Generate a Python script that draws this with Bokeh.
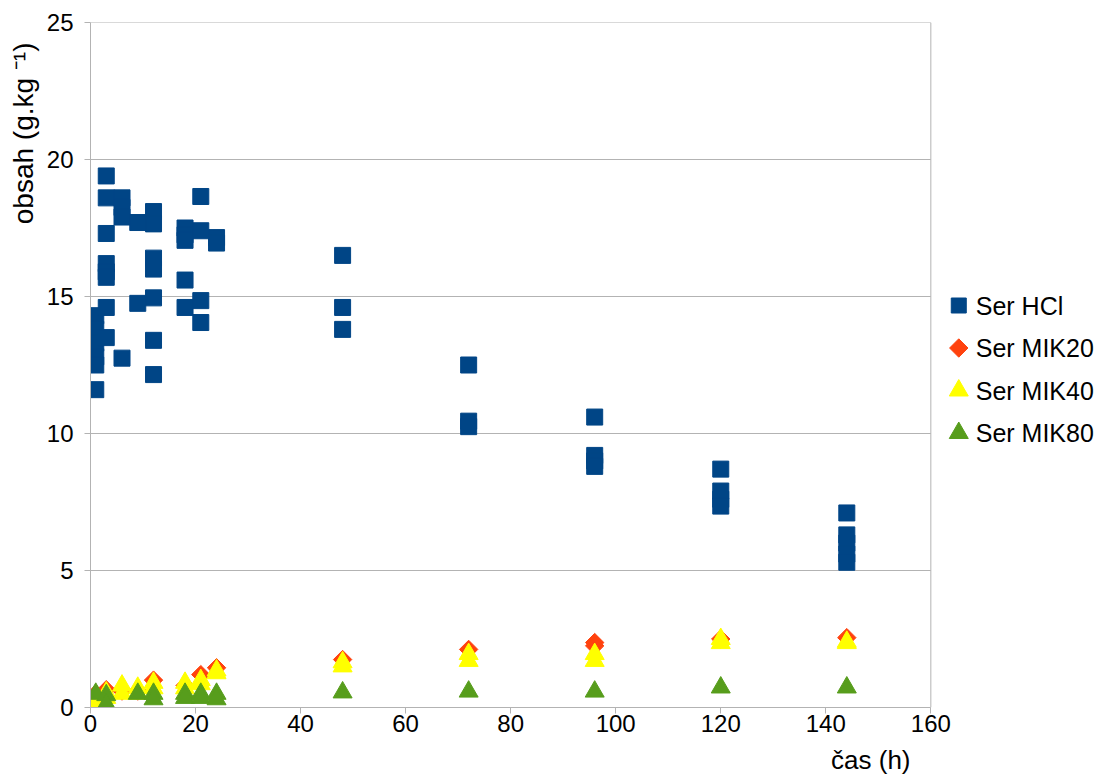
import math
from bokeh.plotting import figure
from bokeh.models import Range1d, FixedTicker, Title
from bokeh.core.properties import value
from bokeh.embed import file_html
from bokeh.resources import INLINE

# time points (h) and measured contents (g/kg); replicate values share a time
hcl_t = [1, 1, 1, 1, 1, 1,
         3, 3, 3, 3, 3, 3, 3, 3,
         6, 6, 6, 6,
         9, 9,
         12, 12, 12, 12, 12, 12, 12,
         18, 18, 18, 18, 18,
         21, 21, 21, 21,
         24, 24,
         48, 48, 48,
         72, 72, 72,
         96, 96, 96, 96,
         120, 120, 120, 120,
         144, 144, 144, 144, 144]
hcl_v = [14.3, 13.8, 13.3, 12.8, 12.5, 11.6,
         19.4, 18.6, 17.3, 16.2, 15.9, 15.7, 14.6, 13.5,
         18.6, 18.25, 17.9, 12.75,
         17.7, 14.75,
         18.1, 17.65, 16.4, 16.0, 14.95, 13.4, 12.15,
         17.5, 17.25, 17.05, 15.6, 14.6,
         18.65, 17.4, 14.85, 14.05,
         17.15, 16.95,
         16.5, 14.6, 13.8,
         12.5, 10.45, 10.25,
         10.6, 9.2, 9.0, 8.8,
         8.7, 7.9, 7.6, 7.35,
         7.1, 6.3, 6.0, 5.6, 5.3]

mik20_t = [1, 3, 6, 9, 12, 18, 21, 24, 48, 72, 96, 96, 120, 144]
mik20_v = [0.5, 0.65, 0.6, 0.6, 1.0, 0.8, 1.2, 1.45, 1.75, 2.12, 2.37, 2.25, 2.5, 2.55]

mik40_t = [1, 1, 3, 3, 6, 6, 9, 9, 12, 12, 18, 18, 21, 21, 24, 24,
           48, 48, 72, 72, 96, 96, 120, 120, 144, 144]
mik40_v = [0.4, 0.2, 0.55, 0.35, 0.8, 0.5, 0.72, 0.5, 0.9, 0.7, 0.9, 0.7,
           1.0, 0.85, 1.35, 1.25, 1.65, 1.5, 1.95, 1.7, 1.95, 1.7,
           2.5, 2.35, 2.4, 2.35]

mik80_t = [1, 3, 3, 9, 12, 12, 18, 18, 21, 21, 24, 24, 48, 72, 96, 120, 144]
mik80_v = [0.5, 0.45, 0.12, 0.5, 0.5, 0.3, 0.5, 0.35, 0.5, 0.35, 0.5, 0.3,
           0.55, 0.58, 0.58, 0.73, 0.73]

series_names = ["Ser HCl", "Ser MIK20", "Ser MIK40", "Ser MIK80"]
x_ticks = [0, 20, 40, 60, 80, 100, 120, 140, 160]
y_ticks = [0, 5, 10, 15, 20, 25]
X_MAX = 160
Y_MAX = 25

FONT = "Liberation Sans"
FS_TICK = "24px"
FS_TEXT = "26px"
GRID = "#b3b3b3"

W, H = 1099, 782
LEFT, RIGHT_EDGE, TOP, BOTTOM = 88, 930, 22, 707

# the frame runs to the right edge of the page; the plotting box ends at
# X_MAX and the key is drawn in the free strip to its right
x_end = X_MAX * (W - LEFT) / (RIGHT_EDGE - LEFT)


def px_x(px):
    return (px - LEFT) * x_end / (W - LEFT)


def px_y(py):
    return (BOTTOM - py) * Y_MAX / (BOTTOM - TOP)


p = figure(width=W, height=H, output_backend="svg", toolbar_location=None,
           x_range=Range1d(0, x_end), y_range=Range1d(0, Y_MAX),
           min_border_left=LEFT, min_border_right=0,
           min_border_top=TOP, min_border_bottom=H - BOTTOM)
p.background_fill_color = "white"
p.border_fill_color = "white"
p.outline_line_color = None

for ax in (p.xaxis[0], p.yaxis[0]):
    ax.axis_line_color = GRID
    ax.major_tick_line_color = GRID
    ax.major_tick_out = 6
    ax.major_tick_in = 0
    ax.minor_tick_line_color = None
    ax.major_label_text_font = FONT
    ax.major_label_text_font_size = FS_TICK
    ax.major_label_text_color = "black"
p.xaxis[0].ticker = FixedTicker(ticks=x_ticks)
p.xaxis[0].bounds = (0, X_MAX)
p.yaxis[0].ticker = FixedTicker(ticks=y_ticks)
p.xaxis[0].major_label_standoff = 1
p.yaxis[0].major_label_standoff = 11

# horizontal grid and the right-hand edge of the plotting box
p.xgrid.grid_line_color = None
p.ygrid.grid_line_color = None
p.segment(x0=[0] * len(y_ticks), y0=y_ticks, x1=[X_MAX] * len(y_ticks), y1=y_ticks,
          line_color=GRID, line_width=1, level="underlay")
p.segment(x0=[X_MAX], y0=[0], x1=[X_MAX], y1=[Y_MAX],
          line_color=GRID, line_width=1, level="underlay")

styles = [
    dict(marker="square", angle=0.0, size=16, color="#004586"),
    dict(marker="square", angle=math.pi / 4, size=13, color="#FF420E"),
    dict(marker="triangle", angle=0.0, size=19, color="#FFFF00"),
    dict(marker="triangle", angle=0.0, size=19, color="#579D1C"),
]
series = [(hcl_t, hcl_v), (mik20_t, mik20_v), (mik40_t, mik40_v), (mik80_t, mik80_v)]

for (ts, vs), st in zip(series, styles):
    p.scatter(ts, vs, marker=st["marker"], angle=st["angle"], size=st["size"],
              fill_color=st["color"], line_color=st["color"])

# key: one symbol and its series name per row
key_rows = [305, 347.5, 390, 432.5]
legend_sizes = [15, 13, 19, 19]
for row, name, st, ls in zip(key_rows, series_names, styles, legend_sizes):
    p.scatter([px_x(958)], [px_y(row)], marker=st["marker"], angle=st["angle"],
              size=ls, fill_color=st["color"], line_color=st["color"])
    p.text([px_x(975)], [px_y(row)], text=[name], text_font=value(FONT),
           text_font_size="25px", text_color="black",
           text_align="left", text_baseline="middle")

p.add_layout(Title(text="čas (h)", align="right", offset=W - 910,
                   text_font=FONT, text_font_size=FS_TEXT, text_font_style="normal",
                   text_color="black", standoff=16), "below")
p.add_layout(Title(text="obsah (g.kg ⁻¹)", align="right", offset=20,
                   text_font=FONT, text_font_size="28px", text_font_style="normal",
                   text_color="black", standoff=10), "left")

open("out.html", "w").write(file_html(p, INLINE))
